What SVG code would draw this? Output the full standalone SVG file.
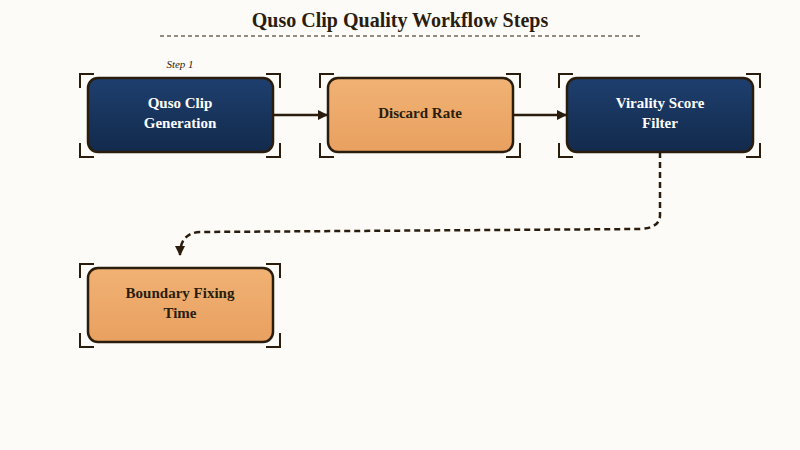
<svg xmlns="http://www.w3.org/2000/svg" width="800" height="450" viewBox="0 0 800 450">
<defs>
<linearGradient id="gb" x1="0" y1="0" x2="0" y2="1"><stop offset="0" stop-color="#1e3f6e"/><stop offset="1" stop-color="#122a4c"/></linearGradient>
<linearGradient id="go" x1="0" y1="0" x2="0" y2="1"><stop offset="0" stop-color="#f0b274"/><stop offset="1" stop-color="#e9a060"/></linearGradient>
<marker id="ah" viewBox="0 0 10 10" refX="9" refY="5" markerWidth="10" markerHeight="10" markerUnits="userSpaceOnUse" orient="auto"><path d="M0,0 L10,5 L0,10 z" fill="#2a1d0e"/></marker>
<style>
.b{fill:url(#gb);stroke:#2a1d0e;stroke-width:2.5}
.o{fill:url(#go);stroke:#2a1d0e;stroke-width:2.5}
.br{fill:none;stroke:#2a1d0e;stroke-width:2}
.tw{font-family:"Liberation Serif","DejaVu Serif",serif;font-weight:bold;font-size:15px;fill:#fff;text-anchor:middle}
.td{font-family:"Liberation Serif","DejaVu Serif",serif;font-weight:bold;font-size:15px;fill:#2a1d0e;text-anchor:middle}
.c{fill:none;stroke:#2a1d0e;stroke-width:2.5}
</style>
</defs>
<rect width="800" height="450" fill="#fdfbf7"/>
<text x="400" y="27" font-family="'Liberation Serif',serif" font-weight="bold" font-size="20" fill="#2a1d0e" text-anchor="middle">Quso Clip Quality Workflow Steps</text>
<line x1="160" y1="36" x2="640" y2="36" stroke="#2a1d0e" stroke-width="1.2" stroke-dasharray="4,3"/>
<text x="180" y="68" font-family="'Liberation Serif',serif" font-style="italic" font-size="11" fill="#2a1d0e" text-anchor="middle">Step 1</text>
<g id="connectors">
<line class="c" x1="273" y1="115" x2="327" y2="115" marker-end="url(#ah)"/>
<line class="c" x1="513" y1="115" x2="566" y2="115" marker-end="url(#ah)"/>
<path class="c" stroke-dasharray="6,4" d="M660,152 V215 Q660,228 640,229 L200,232 Q180,233 180,255" marker-end="url(#ah)"/>
</g>
<g id="n1">
<rect class="b" x="88" y="78" width="185" height="74" rx="10"/>
<path class="br" d="M80,88 V74 H94 M266,74 H280 V88 M280,143 V157 H266 M94,157 H80 V143"/>
<text class="tw" x="180" y="108">Quso Clip</text><text class="tw" x="180" y="128">Generation</text>
</g>
<g id="n2">
<rect class="o" x="328" y="78" width="185" height="74" rx="10"/>
<path class="br" d="M320,88 V74 H334 M506,74 H520 V88 M520,143 V157 H506 M334,157 H320 V143"/>
<text class="td" x="420" y="118">Discard Rate</text>
</g>
<g id="n3">
<rect class="b" x="567" y="78" width="186" height="74" rx="10"/>
<path class="br" d="M559,88 V74 H573 M746,74 H760 V88 M760,143 V157 H746 M573,157 H559 V143"/>
<text class="tw" x="660" y="108">Virality Score</text><text class="tw" x="660" y="128">Filter</text>
</g>
<g id="n4">
<rect class="o" x="88" y="268" width="185" height="74" rx="10"/>
<path class="br" d="M80,278 V264 H94 M266,264 H280 V278 M280,333 V347 H266 M94,347 H80 V333"/>
<text class="td" x="180" y="298">Boundary Fixing</text><text class="td" x="180" y="318">Time</text>
</g>
</svg>
